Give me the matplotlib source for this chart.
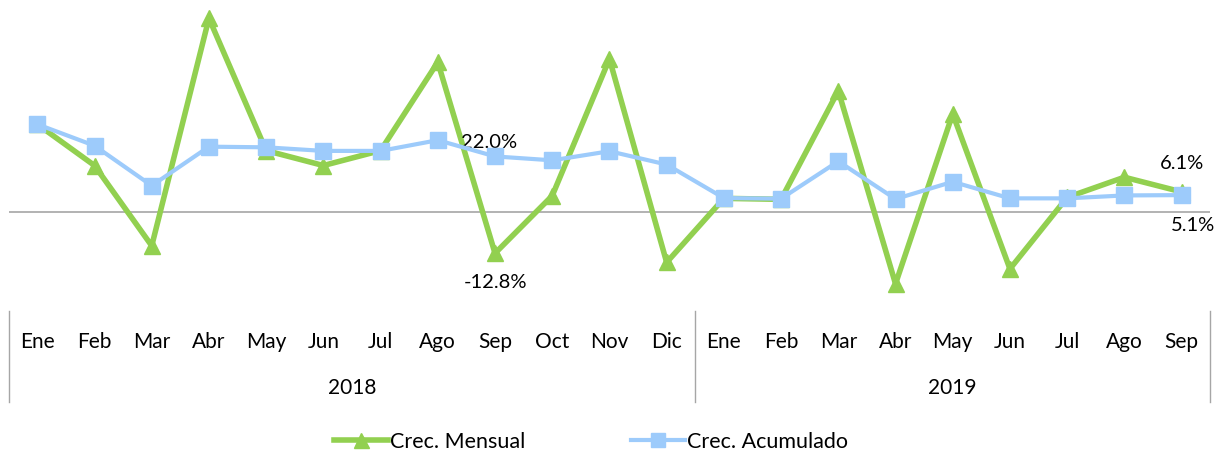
import numpy as np
import matplotlib.pyplot as plt
from matplotlib import transforms

meses = ['Ene', 'Feb', 'Mar', 'Abr', 'May', 'Jun', 'Jul', 'Ago', 'Sep', 'Oct', 'Nov', 'Dic',
         'Ene', 'Feb', 'Mar', 'Abr', 'May', 'Jun', 'Jul', 'Ago', 'Sep']
anios = ['2018', '2019']
meses_por_anio = [12, 9]

# Crec. Mensual (%)
mensual = [26.9, 14.2, -10.5, 59.5, 18.8, 14.2, 18.8, 46.0, -12.8, 4.9, 47.0, -15.6,
           4.1, 3.8, 37.2, -22.2, 30.1, -17.6, 4.4, 10.6, 6.1]
# Crec. Acumulado (%)
acumulado = [26.9, 20.3, 8.0, 20.0, 19.8, 18.7, 18.7, 22.0, 17.0, 15.8, 18.6, 14.5,
             4.2, 4.0, 15.5, 3.9, 9.2, 4.1, 4.1, 5.0, 5.1]

verde = '#92D050'
azul = '#9DCBFB'
gris = '#A6A6A6'

plt.rcParams['font.family'] = ['Lato', 'DejaVu Sans']

fig = plt.figure(figsize=(12.26, 4.52), dpi=100)
ax = fig.add_axes([0.0071, 0.336, 0.980, 0.653])

x = np.arange(len(meses))
ax.axhline(0, color=gris, lw=1.2, zorder=1)
l1, = ax.plot(x, mensual, color=verde, lw=4, marker='^', markersize=12,
              label='Crec. Mensual', zorder=3)
l2, = ax.plot(x, acumulado, color=azul, lw=3, marker='s', markersize=11,
              label='Crec. Acumulado', zorder=4)

ax.set_xlim(-0.5, len(meses) - 0.5)
ax.set_ylim(-26.9, 63.9)
ax.set_xticks([])
ax.set_yticks([])
for s in ax.spines.values():
    s.set_visible(False)

# etiquetas de datos
ax.text(7.4, 21.6, '22.0%', fontsize=14.5, ha='left', va='center')
ax.text(8.0, -21.5, '-12.8%', fontsize=14.5, ha='center', va='center')
ax.text(20.0, 15.2, '6.1%', fontsize=14.5, ha='center', va='center')
ax.text(20.2, -4.0, '5.1%', fontsize=14.5, ha='center', va='center')

# eje de categorias en dos niveles
trans = transforms.blended_transform_factory(ax.transData, ax.transAxes)
for i, m in enumerate(meses):
    ax.text(i, -0.142, m, transform=trans, ha='center', va='center', fontsize=15)
inicio = 0
bordes = [-0.5]
for a, n in zip(anios, meses_por_anio):
    ax.text(inicio + (n - 1) / 2, -0.298, a, transform=trans, ha='center', va='center', fontsize=15)
    inicio += n
    bordes.append(inicio - 0.5)
for b in bordes:
    ax.plot([b, b], [-0.041, -0.349], transform=trans, color=gris, lw=1, clip_on=False)

fig.legend(handles=[l1, l2], loc='lower center', bbox_to_anchor=(0.482, -0.043), ncol=2,
           frameon=False, fontsize=15.5, handlelength=2.5, columnspacing=4.9,
           handletextpad=0.1, markerscale=0.9)

plt.savefig('out.png', dpi=100)
